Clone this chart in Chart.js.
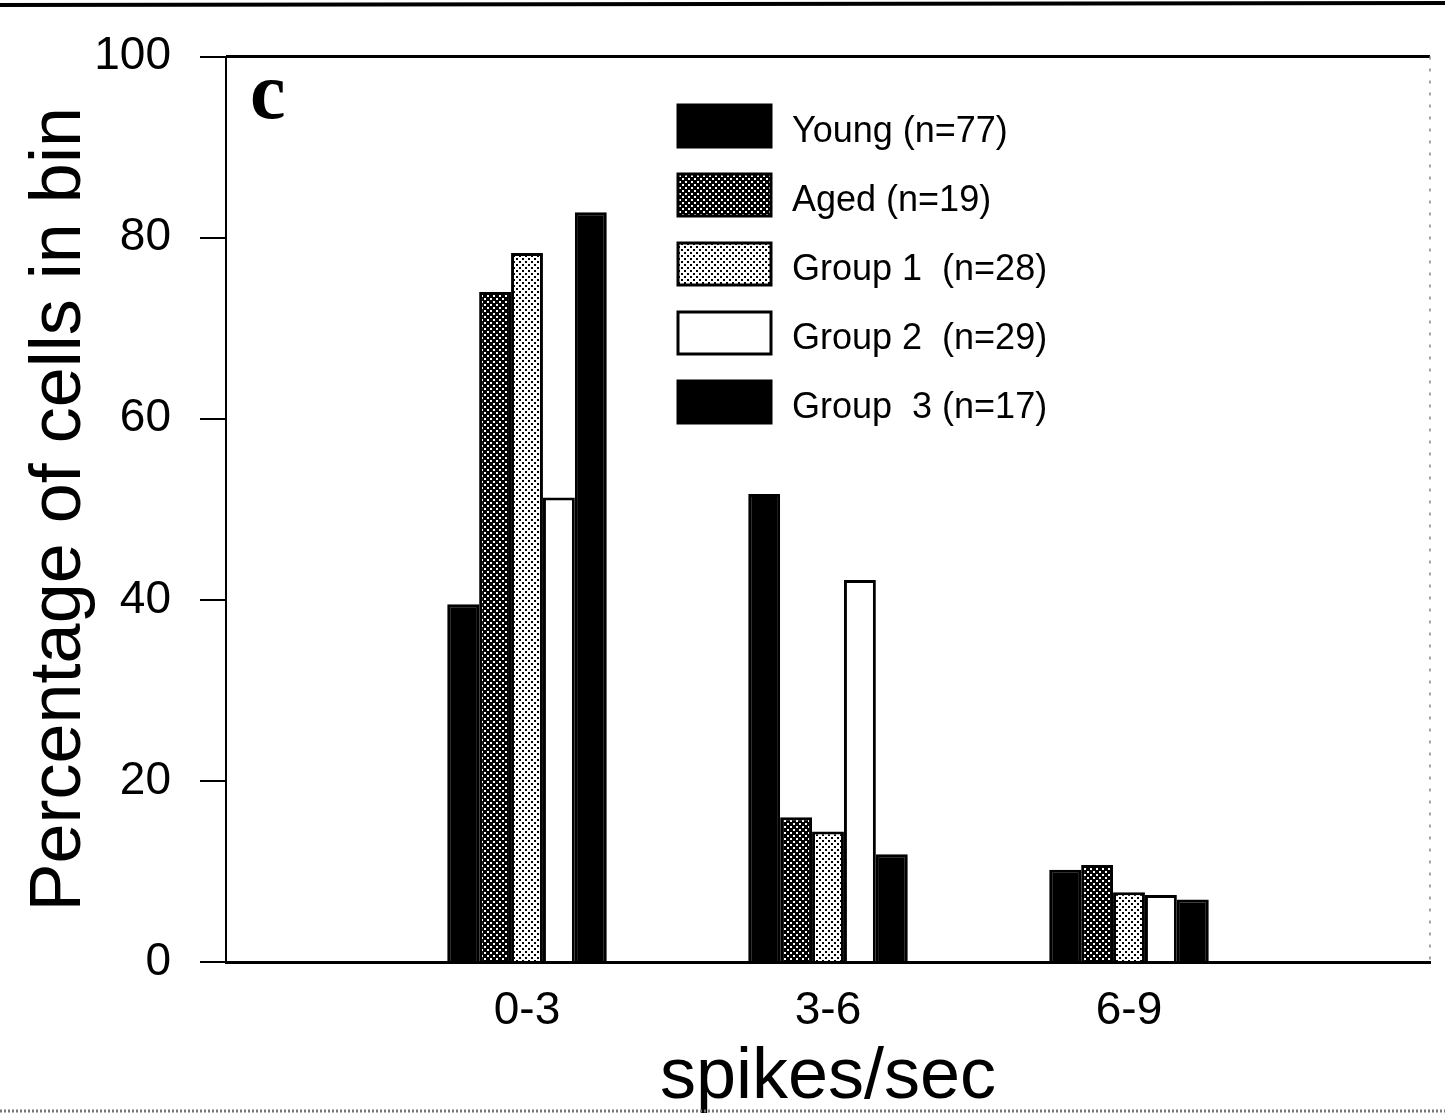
<!DOCTYPE html>
<html><head><meta charset="utf-8">
<script src="https://cdn.jsdelivr.net/npm/chart.js@4/dist/chart.umd.min.js"></script>
<style>html,body{margin:0;padding:0;background:#fff;} canvas{display:block}</style>
</head><body>
<canvas id="c" width="1445" height="1116"></canvas>
<script>
// ---- data ----
const categories = ['', '0-3', '3-6', '6-9', ''];
const seriesNames = ['Young (n=77)', 'Aged (n=19)', 'Group 1  (n=28)', 'Group 2  (n=29)', 'Group  3 (n=17)'];
const young  = [39.5, 51.7, 10.2];
const aged   = [74.0, 16.0, 10.7];
const group1 = [78.3, 14.4, 7.7];
const group2 = [51.3, 42.2, 7.4];
const group3 = [82.8, 11.9, 6.9];
const yTicks = [0, 20, 40, 60, 80, 100];
const panelLabel = 'c';
const xTitle = 'spikes/sec';
const yTitle = 'Percentage of cells in bin';

const FONT = '"Liberation Sans", Arial, sans-serif';

function makePattern(bg, fg, dots, size) {
  const c = document.createElement('canvas');
  c.width = size; c.height = size;
  const x = c.getContext('2d');
  x.fillStyle = bg; x.fillRect(0, 0, size, size);
  x.fillStyle = fg;
  dots.forEach(d => x.fillRect(d[0], d[1], d[2], d[2]));
  return x.createPattern(c, 'repeat');
}
const agedFill = makePattern('#000', '#fff', [[1,1,2],[4,4,2]], 6);
const g1Fill = makePattern('#fff', '#000', [[0,0,2],[3,3,2]], 6);

const pad = arr => [null, ...arr, null];
const seriesData = [young, aged, group1, group2, group3];
const fills = ['#000', agedFill, g1Fill, '#fff', '#000'];

const datasets = seriesData.map((d, i) => ({
  label: seriesNames[i],
  data: pad(d),
  backgroundColor: fills[i],
  borderColor: '#000',
  borderWidth: 3,
  categoryPercentage: 0.53,
  barPercentage: 1.0
}));

const decor = {
  id: 'decor',
  afterDraw(chart) {
    const ctx = chart.ctx;
    const a = chart.chartArea;
    ctx.save();
    // top frame line
    ctx.strokeStyle = '#000'; ctx.lineWidth = 3;
    ctx.beginPath(); ctx.moveTo(a.left, a.top); ctx.lineTo(a.right, a.top); ctx.stroke();
    // right faint dotted frame
    ctx.strokeStyle = '#888'; ctx.lineWidth = 1.5; ctx.setLineDash([3, 9]);
    ctx.beginPath(); ctx.moveTo(a.right, a.top); ctx.lineTo(a.right, a.bottom); ctx.stroke();
    ctx.setLineDash([]);
    // scan border lines
    ctx.strokeStyle = '#000'; ctx.lineWidth = 4;
    ctx.beginPath(); ctx.moveTo(0, 5); ctx.lineTo(1445, 3); ctx.stroke();
    ctx.strokeStyle = '#777'; ctx.lineWidth = 3; ctx.setLineDash([2, 2]);
    ctx.beginPath(); ctx.moveTo(0, 1111); ctx.lineTo(1445, 1111); ctx.stroke();
    ctx.setLineDash([]);
    // panel label
    ctx.fillStyle = '#000';
    ctx.font = 'bold 80px "Liberation Serif", "Times New Roman", serif';
    ctx.textBaseline = 'alphabetic'; ctx.textAlign = 'left';
    ctx.fillText(panelLabel, 250, 118);
    // legend
    ctx.font = '36px ' + FONT;
    ctx.textBaseline = 'middle';
    chart.data.datasets.forEach((ds, i) => {
      const y = 105 + i * 69;
      ctx.fillStyle = ds.backgroundColor;
      ctx.fillRect(678, y, 93, 42);
      ctx.strokeStyle = '#000'; ctx.lineWidth = 3;
      ctx.strokeRect(678, y, 93, 42);
      ctx.fillStyle = '#000';
      ctx.fillText(ds.label, 792, y + 27);
    });
    ctx.restore();
  }
};

new Chart(document.getElementById('c'), {
  type: 'bar',
  data: { labels: categories, datasets },
  options: {
    responsive: false,
    animation: false,
    devicePixelRatio: 1,
    layout: { padding: { top: 54, right: 15, left: 0, bottom: 0 } },
    plugins: { legend: { display: false }, tooltip: { enabled: false } },
    scales: {
      x: {
        offset: false,
        grid: { display: false },
        border: { display: true, color: '#000', width: 3 },
        ticks: { autoSkip: false, maxRotation: 0, color: '#000', padding: 14, font: { family: FONT, size: 46 } },
        title: { display: true, text: xTitle, color: '#000', font: { family: FONT, size: 72, lineHeight: 1 }, padding: { top: 0, bottom: 2 } },
        afterFit(s) { s.height = 154; }
      },
      y: {
        min: 0, max: 100,
        afterBuildTicks(s) { s.ticks = yTicks.map(v => ({ value: v })); },
        grid: { drawOnChartArea: false, drawTicks: true, tickLength: 26, color: '#000', lineWidth: 2 },
        border: { display: true, color: '#000', width: 2 },
        ticks: { color: '#000', padding: 29, font: { family: FONT, size: 46 } },
        title: { display: true, text: yTitle, color: '#000', font: { family: FONT, size: 72, lineHeight: 1 }, padding: { top: 24, bottom: 0 } },
        afterFit(s) { s.width = 226; }
      }
    }
  },
  plugins: [decor]
});
</script>
</body></html>
